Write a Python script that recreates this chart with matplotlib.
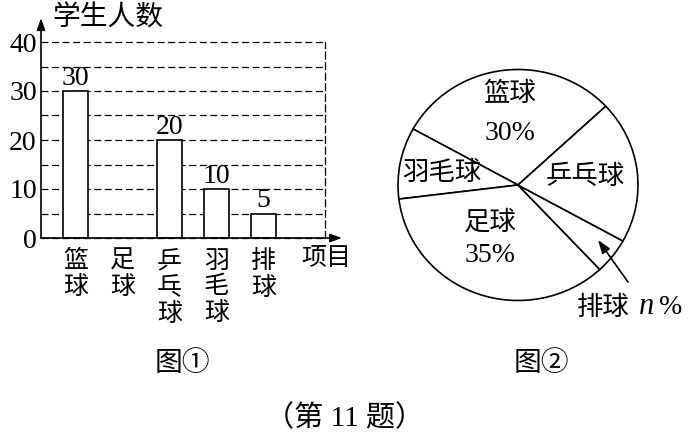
import matplotlib.pyplot as plt

plt.rcParams['font.family'] = ['Liberation Serif', 'Noto Sans CJK SC']
plt.rcParams['lines.scale_dashes'] = False

# bar chart data (足球 bar is missing in the original)
categories = ['篮球', '足球', '乒乓球', '羽毛球', '排球']
counts = [30, None, 20, 10, 5]
major_ticks = [0, 10, 20, 30, 40]
minor_ticks = [5, 15, 25, 35]

# pie chart data, in drawing order (counter-clockwise)
pie_names = ['篮球', '羽毛球', '足球', '排球', '乒乓球']
pie_shares = [30, 10, 35, 5, 20]
pie_show_pct = [True, False, True, False, False]

W, H = 692, 438
fig = plt.figure(figsize=(W / 100, H / 100), dpi=100)


def fx(x):
    return x / W


def fy(y):
    return 1 - y / H


ink = 'black'
dash = (0, (5, 2.6))

# ---- figure 1: bar chart ----
ax = fig.add_axes([fx(41), fy(238), (325 - 41) / W, (238 - 42) / H])
ax.set_xlim(-0.734, 5.309)
ax.set_ylim(0, 40)

xs = [i for i, c in enumerate(counts) if c is not None]
hs = [c for c in counts if c is not None]
ax.bar(xs, hs, width=0.52, facecolor='white', edgecolor=ink, linewidth=1.2, zorder=3)
for x, h in zip(xs, hs):
    ax.text(x, h + 0.1, str(h), ha='center', va='bottom', fontsize=20)

ax.set_yticks(major_ticks)
ax.set_yticks(minor_ticks, minor=True)
ax.set_yticklabels([str(t) for t in major_ticks], fontsize=20)
ax.tick_params(axis='y', which='both', length=0, pad=3)
ax.grid(axis='y', which='both', color=ink, linestyle=dash, linewidth=0.9)
for gl in ax.get_ygridlines():
    gl.set_clip_on(False)

ax.set_xticks(range(len(categories)))
ax.set_xticklabels(['\n'.join(c) for c in categories], fontsize=18, linespacing=1.2)
ax.tick_params(axis='x', length=0, pad=9)

for s in ['left', 'bottom', 'top']:
    ax.spines[s].set_visible(False)
ax.spines['right'].set_linestyle(dash)
ax.spines['right'].set_linewidth(0.9)

arrow = dict(arrowstyle='-|>,head_length=0.7,head_width=0.25', color=ink, lw=1.2,
             shrinkA=0, shrinkB=0)
ax.annotate('', xy=(0, 1.122), xytext=(0, 0), xycoords='axes fraction', arrowprops=arrow)
ax.annotate('', xy=(1.06, 0), xytext=(0, 0), xycoords='axes fraction', arrowprops=arrow)

fig.text(fx(108), fy(19), '学生人数', ha='center', va='center', fontsize=20)
fig.text(fx(326), fy(259), '项目', ha='center', va='center', fontsize=18)

# ---- figure 2: pie chart ----
cx, cy, rx, ry = 518, 185, 120, 115.5
ax2 = fig.add_axes([fx(cx - rx), fy(cy + ry), 2 * rx / W, 2 * ry / H])
ax2.pie(pie_shares, startangle=43, counterclock=True, colors=['white'] * len(pie_shares),
        wedgeprops=dict(edgecolor=ink, linewidth=1.2))
ax2.set_aspect('auto')
ax2.set_xlim(-1, 1)
ax2.set_ylim(-1, 1)
ax2.axis('off')

# label placement inside the pie: (x, name y, percent y)
label_pos = [(-0.067, 0.79, 0.45), (-0.633, 0.104, None), (-0.233, -0.32, -0.61),
             None, (0.558, 0.069, None)]
for name, share, show, pos in zip(pie_names, pie_shares, pie_show_pct, label_pos):
    if pos is None:
        continue
    ax2.text(pos[0], pos[1], name, ha='center', va='center', fontsize=19)
    if show:
        ax2.text(pos[0], pos[2], f'{share}%', ha='center', va='center', fontsize=20)

ax2.annotate('', xy=(0.667, -0.476), xytext=(0.917, -0.84), xycoords='data',
             arrowprops=dict(arrowstyle='-|>,head_length=0.8,head_width=0.28', color=ink,
                             lw=1.2, shrinkA=0, shrinkB=0), annotation_clip=False)
fig.text(fx(603), fy(308), pie_names[3], ha='center', va='center', fontsize=19)
fig.text(fx(647), fy(306), 'n', ha='center', va='center', fontsize=22, style='italic')
fig.text(fx(671), fy(308), '%', ha='center', va='center', fontsize=20)

# ---- captions ----
fig.text(fx(182), fy(364), '图①', ha='center', va='center', fontsize=20)
fig.text(fx(541), fy(364), '图②', ha='center', va='center', fontsize=20)
fig.text(fx(345), fy(418), '（第 11 题）', ha='center', va='center', fontsize=21)

fig.savefig('out.png', dpi=100, facecolor='white')
